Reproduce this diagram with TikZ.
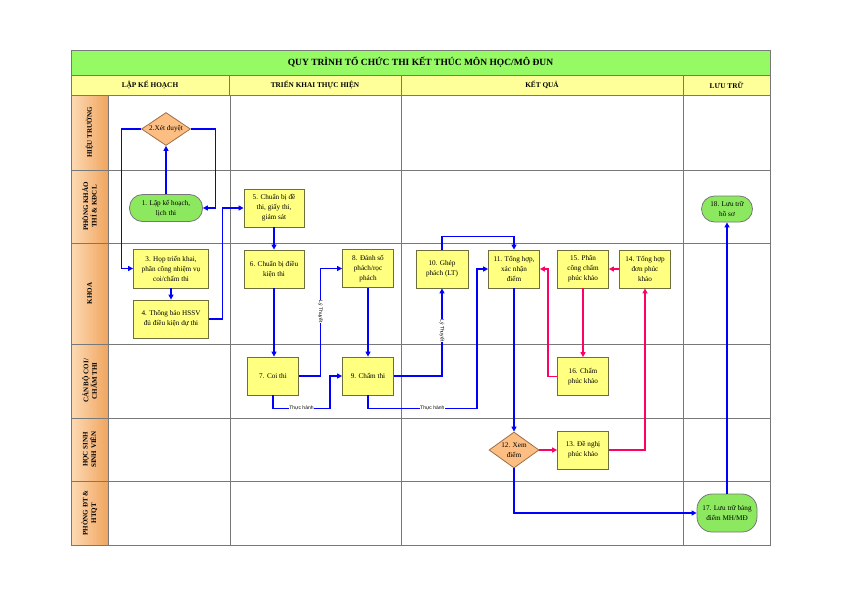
\documentclass[tikz,border=0pt]{standalone}
\usepackage{fontspec}
\setmainfont{Liberation Serif}
\setsansfont{Liberation Sans}
\usetikzlibrary{shapes.geometric,arrows.meta}
\definecolor{gridgray}{RGB}{120,120,120}
\definecolor{titlegreen}{RGB}{150,250,100}
\definecolor{headyellow}{RGB}{255,255,153}
\definecolor{laneA}{RGB}{253,218,180}
\definecolor{laneB}{RGB}{240,165,95}
\definecolor{boxfill}{RGB}{255,255,128}
\definecolor{boxline}{RGB}{110,110,60}
\definecolor{decfill}{RGB}{252,190,130}
\definecolor{decline}{RGB}{160,110,70}
\definecolor{termfill}{RGB}{140,232,95}
\definecolor{flowblue}{RGB}{0,0,255}
\definecolor{flowpink}{RGB}{255,0,102}
\begin{document}
\begin{tikzpicture}[x=1pt, y=-1pt, every node/.style={align=center, inner sep=1pt, font=\fontsize{7.2}{10}\selectfont}, line width=0.8pt]
	\tikzstyle{titlebar} = [draw=gridgray, fill=titlegreen, minimum height=25pt, font=\bfseries\fontsize{9.5}{11}\selectfont]
	\tikzstyle{head} = [draw=gridgray, fill=headyellow, minimum height=20pt, font=\bfseries\fontsize{7.3}{9}\selectfont]
	\tikzstyle{lane} = [draw=gridgray, left color=laneA, right color=laneB, rotate=90, minimum height=37pt, font=\bfseries\fontsize{7}{8.5}\selectfont]
	\tikzstyle{box} = [draw=boxline, fill=boxfill, minimum width=51pt, minimum height=38pt]
	\tikzstyle{dec} = [draw=decline, fill=decfill, diamond, aspect=1.4, inner sep=0pt]
	\tikzstyle{term} = [draw=gridgray, fill=termfill, rounded corners=13pt]
	\tikzstyle{flow} = [draw=flowblue, line width=1.5pt, -{Triangle[length=5pt,width=5pt]}]
	\tikzstyle{back} = [draw=flowpink, line width=1.5pt, -{Triangle[length=5pt,width=5pt]}]
	\tikzstyle{tag} = [fill=white, inner sep=0.3pt, font=\sffamily\fontsize{5}{5}\selectfont]
	\useasboundingbox (0,0) rectangle (842,595);
	\fill[white] (0,0) rectangle (842,595);
	\node[titlebar, minimum width=699pt] (title) at (420.5,62.5) {QUY TRÌNH TỔ CHỨC THI KẾT THÚC MÔN HỌC/MÔ ĐUN};
	\node[head, minimum width=158pt] (h1) at (150,85) {LẬP KẾ HOẠCH};
	\node[head, minimum width=172pt] (h2) at (315,85) {TRIỂN KHAI THỰC HIỆN};
	\node[head, minimum width=282pt] (h3) at (542,85) {KẾT QUẢ};
	\node[head, minimum width=87pt] (h4) at (726.5,85) {LƯU TRỮ};
	\node[lane, minimum width=75pt] (l1) at (89.5,132.5) {HIỆU TRƯỞNG};
	\node[lane, minimum width=73pt] (l2) at (89.5,206.5) {PHÒNG KHẢO\\THÍ \& KĐCL};
	\node[lane, minimum width=101pt] (l3) at (89.5,293.5) {KHOA};
	\node[lane, minimum width=74pt] (l4) at (89.5,381) {CÁN BỘ COI/\\CHẤM THI};
	\node[lane, minimum width=63pt] (l5) at (89.5,449.5) {HỌC SINH\\SINH VIÊN};
	\node[lane, minimum width=64pt] (l6) at (89.5,513) {PHÒNG ĐT \&\\HTQT};
	\foreach \x in {230,401,683} \draw[gridgray] (\x,95) -- (\x,545);
	\foreach \y in {170,243,344,418,481} \draw[gridgray] (108,\y) -- (770,\y);
	\draw[gridgray] (71,50) rectangle (770,545);
	\node[term, minimum width=73pt, minimum height=27pt] (n1) at (166,208) {1. Lập kế hoạch,\\lịch thi};
	\node[dec, minimum width=49pt, minimum height=33pt] (d2) at (166,129) {2.Xét duyệt};
	\node[box, minimum width=75pt, minimum height=39pt] (n3) at (171,268.5) {3. Họp triển khai,\\phân công nhiệm vụ\\coi/chấm thi};
	\node[box, minimum width=75pt] (n4) at (171,319) {4. Thông báo HSSV\\đủ điều kiện dự thi};
	\node[box, minimum width=60pt] (n5) at (274,208) {5. Chuẩn bị đề\\thi, giấy thi,\\giám sát};
	\node[box, minimum width=60pt] (n6) at (274,269) {6. Chuẩn bị điều\\kiện thi};
	\node[box] (n7) at (273,376) {7. Coi thi};
	\node[box] (n8) at (368,268.5) {8. Đánh số\\phách/rọc\\phách};
	\node[box] (n9) at (368,376) {9. Chấm thi};
	\node[box, minimum width=52pt] (n10) at (442,269) {10. Ghép\\phách (LT)};
	\node[box] (n11) at (514,269) {11. Tổng hợp,\\xác nhận\\điểm};
	\node[dec, minimum width=50pt, minimum height=36pt] (d12) at (514,450) {12. Xem\\điểm};
	\node[box] (n13) at (583,450) {13. Đề nghị\\phúc khảo};
	\node[box] (n14) at (645,269) {14. Tổng hợp\\đơn phúc\\khảo};
	\node[box] (n15) at (583,269) {15. Phân\\công chấm\\phúc khảo};
	\node[box] (n16) at (583,376.5) {16. Chấm\\phúc khảo};
	\node[term, minimum width=60pt, minimum height=38pt, rounded corners=15pt] (n17) at (727,513) {17. Lưu trữ bảng\\điểm MH/MĐ};
	\node[term, minimum width=51pt, minimum height=26pt] (n18) at (727,209) {18. Lưu trữ\\hồ sơ};
	\draw[flow] (n1.north) -- (d2.south);
	\draw[flow] (d2.east) -- ++(24.5,0) |- (n1.east);
	\draw[flow] (d2.west) -- ++(-19.5,0) |- (n3.west);
	\draw[flow] (n3.south) -- (n4.north);
	\draw[flow] (n4.east) -- ++(13.5,0) |- (n5.west);
	\draw[flow] (n5.south) -- (n6.north);
	\draw[flow] (n6.south) -- (n6.south |- n7.north);
	\draw[flow] (n7.east) -- ++(21.5,0) |- node[tag, rotate=-90, pos=0.3] {Lý Thuyết} (n8.west);
	\draw[flow] (n7.south) -- ++(0,13) -- node[tag] {Thực hành} ++(57,0) |- (n9.west);
	\draw[flow] (n8.south) -- (n9.north);
	\draw[flow] (n9.east) -| node[tag, rotate=-90, pos=0.76] {Lý Thuyết} (n10.south);
	\draw[flow] (n9.south) -- ++(0,13) -- node[tag, pos=0.59] {Thực hành} ++(109,0) |- (n11.west);
	\draw[flow] (n10.north) -- ++(0,-13) -| (n11.north);
	\draw[flow] (n11.south) -- (d12.north);
	\draw[back] (d12.east) -- (n13.west);
	\draw[back] (n13.east) -| (n14.south);
	\draw[back] (n14.west) -- (n15.east);
	\draw[back] (n15.south) -- (n16.north);
	\draw[back] (n16.west) -- ++(-9,0) |- (n11.east);
	\draw[flow] (d12.south) |- (n17.west);
	\draw[flow] (n17.north) -- (n18.south);
\end{tikzpicture}
\end{document}
